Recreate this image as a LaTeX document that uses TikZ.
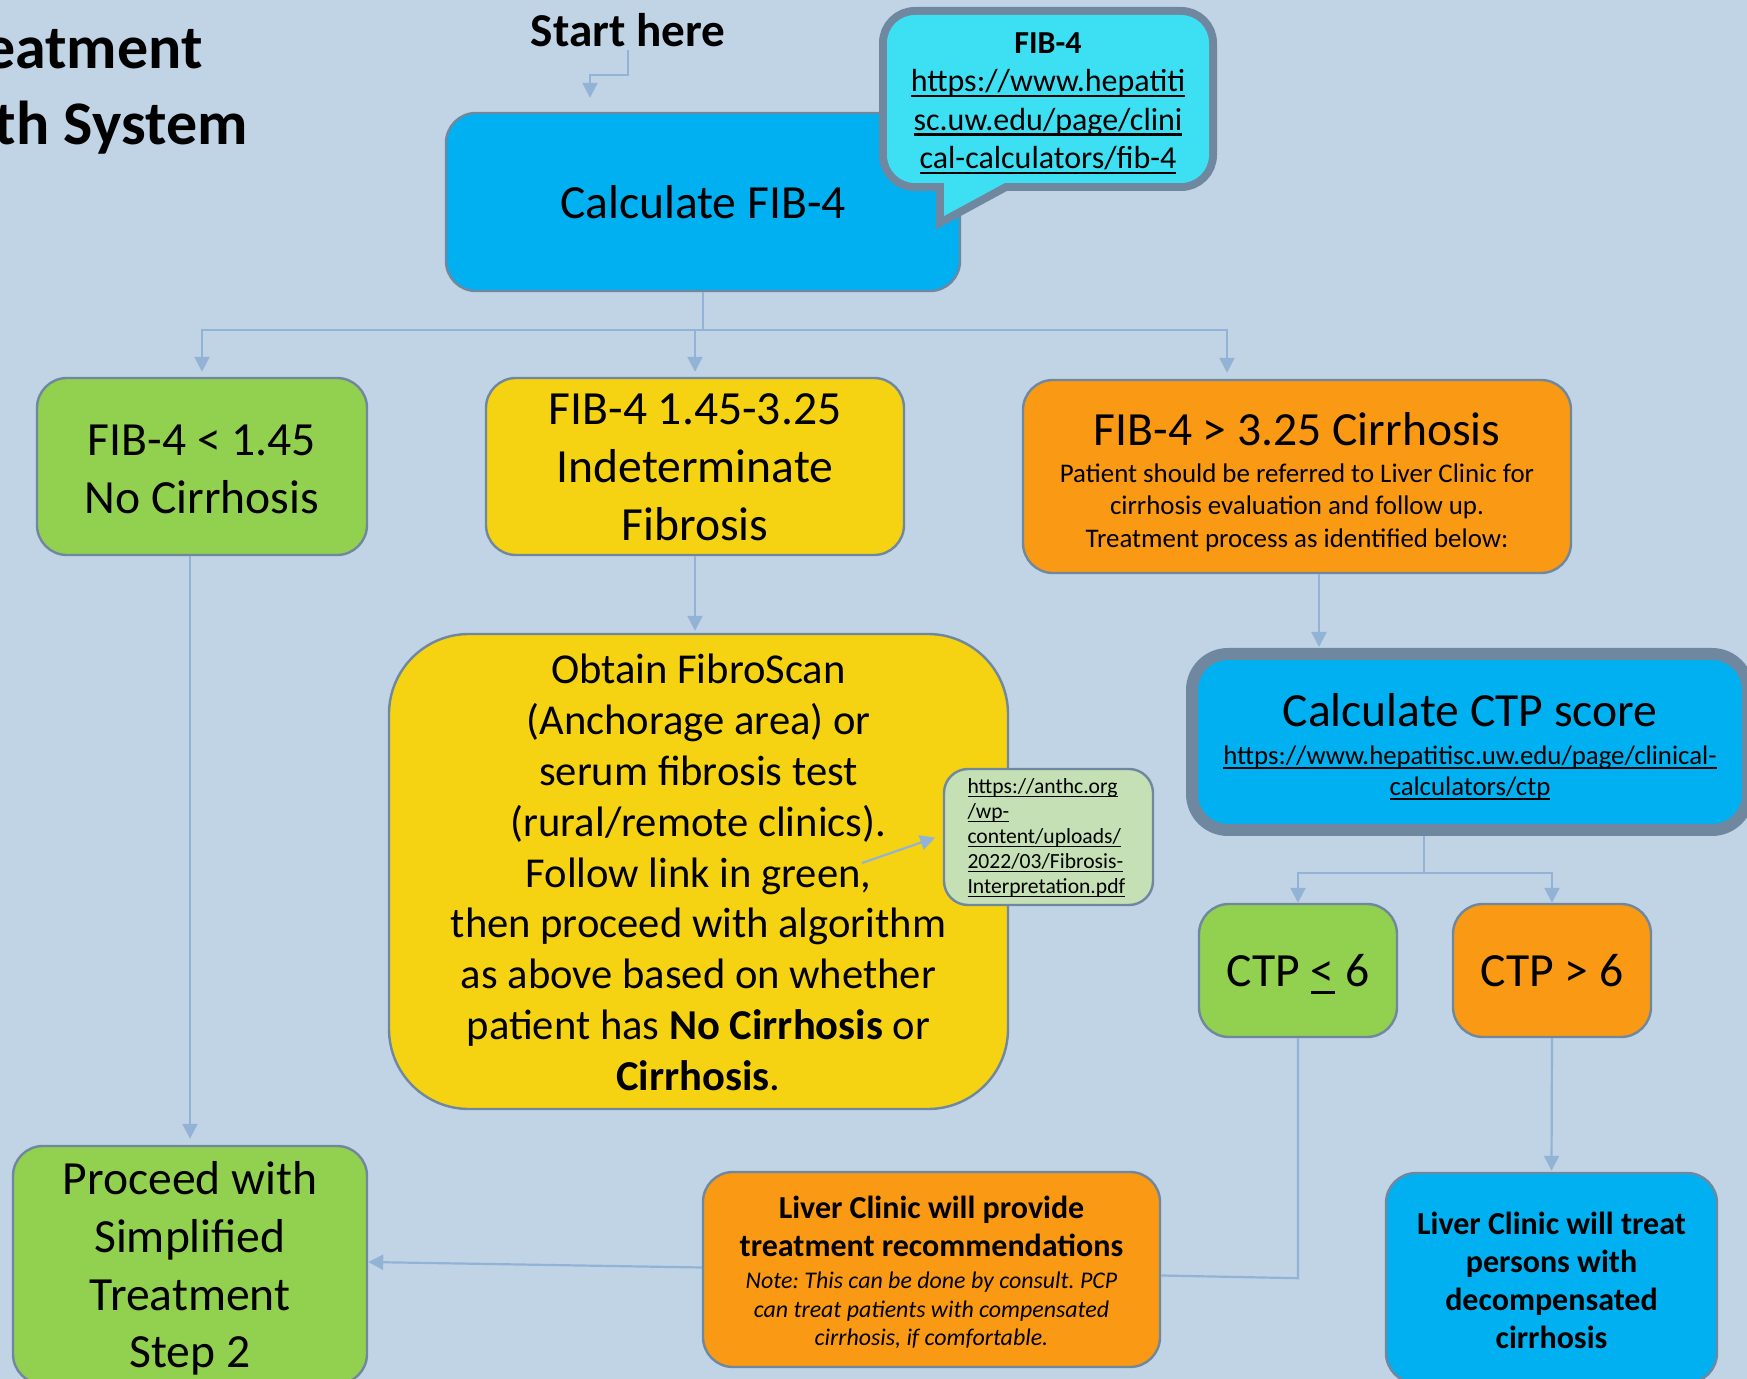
\documentclass[tikz,border=0pt]{standalone}
\usepackage{fontspec}
\setmainfont{Carlito}
\usetikzlibrary{arrows.meta,calc}
\frenchspacing

\definecolor{bgc}{HTML}{C0D4E5}
\definecolor{linec}{HTML}{93B3D6}
\definecolor{edgec}{HTML}{6F88A0}
\definecolor{blueb}{HTML}{00B0F0}
\definecolor{cyanb}{HTML}{3DDFF2}
\definecolor{greenb}{HTML}{92D050}
\definecolor{yellowb}{HTML}{F5D312}
\definecolor{orangeb}{HTML}{FA9913}
\definecolor{paleg}{HTML}{C5E0B4}

% underlined link text, with the rule close under the baseline
\newcommand\undl[1]{\leavevmode\setbox0\hbox{#1}\rlap{\smash{\rule[-0.16em]{\wd0}{0.065em}}}\box0\relax}
\newcommand\fbig{\fontsize{23.8}{28.9}\selectfont}
% trims the foot of a text block, which lowers it inside its box
\newcommand\lowerby[1]{\par\vspace{-#1}}

\tikzset{
  box/.style={draw=edgec, line width=1.2pt, rounded corners=15pt, inner sep=0pt,
              align=flush center, text=black},
  conn/.style={draw=linec, line width=1.1pt},
  arr/.style={conn, -{Triangle[width=7.5pt,length=7.5pt]}},
}

\begin{document}
\begin{tikzpicture}[x=0.5pt, y=-0.5pt]
\fill[bgc] (0,0) rectangle (1747,1379);
\useasboundingbox (0,0) rectangle (1747,1379);

% heading, partly outside the page on the left
\node[font=\bfseries\fontsize{31}{37}\selectfont, anchor=base east, inner sep=0pt] (title1) at (203,69) {eatment};
\node[font=\bfseries\fontsize{31}{37}\selectfont, anchor=base east, inner sep=0pt] (title2) at (248,145) {th System};

\node[font=\bfseries\fontsize{23.6}{28}\selectfont, anchor=base, inner sep=1pt] (start) at (628,47) {Start here};

% first step
\node[box, fill=blueb, minimum width=257pt, minimum height=89pt, text width=240pt, font=\fbig] (fib) at (703,202) {Calculate FIB-4};

% speech bubble with the FIB-4 calculator link
\begin{scope}
  \draw[edgec, line width=8pt, rounded corners=14pt] (887,15) rectangle (1209,183);
  \draw[edgec, line width=8pt, line join=miter] (944,178) -- (944,216) -- (1014,178) -- cycle;
  \fill[cyanb, rounded corners=14pt] (887,15) rectangle (1209,183);
  \fill[cyanb] (944,178) -- (944,216) -- (1014,178) -- cycle;
\end{scope}
\node[align=center, inner sep=0pt, font=\fontsize{16}{19.2}\selectfont] (callout) at (1048,101.5)
  {\textbf{FIB-4}\\\undl{https://www.hepatiti}\\\undl{sc.uw.edu/page/clini}\\\undl{cal-calculators/fib-4}};

% FIB-4 outcomes
\node[box, fill=greenb, minimum width=165pt, minimum height=88.5pt, text width=155pt, font=\fbig] (low) at (202,466.5) {FIB-4 < 1.45\\No Cirrhosis\lowerby{3pt}};
\node[box, fill=yellowb, minimum width=209pt, minimum height=88.5pt, text width=200pt, font=\fbig] (mid) at (695,466.5) {FIB-4 1.45-3.25\\Indeterminate\\Fibrosis\lowerby{1pt}};
\node[box, fill=orangeb, minimum width=274pt, minimum height=96.5pt, text width=265pt] (high) at (1297,476.5)
  {{\fbig FIB-4 > 3.25 Cirrhosis\par}\vspace{2.3pt}%
   {\fontsize{13.45}{16.2}\selectfont Patient should be referred to Liver Clinic for\\cirrhosis evaluation and follow up.\\Treatment process as identified below:\par}\lowerby{5.6pt}};

% indeterminate path
\node[box, fill=yellowb, rounded corners=40pt, minimum width=309.5pt, minimum height=237.5pt, text width=300pt, font=\fontsize{21.3}{25.4}\selectfont] (scan) at (698.5,871.5)
  {Obtain FibroScan\\(Anchorage area) or\\serum fibrosis test\\(rural/remote clinics).\\Follow link in green,\\then proceed with algorithm\\as above based on whether\\patient has \textbf{No Cirrhosis} or\\\textbf{Cirrhosis}.\lowerby{1pt}};
\node[box, fill=paleg, rounded corners=12pt, minimum width=104.5pt, minimum height=68pt, text width=81pt, align=flush left, font=\fontsize{10.8}{12.5}\selectfont] (link) at (1048.5,837)
  {\undl{https://anthc.org}\\\undl{/wp-}\\\undl{content/uploads/}\\\undl{2022/03/Fibrosis-}\\\undl{Interpretation.pdf}\lowerby{1pt}};

% cirrhosis path
\node[box, fill=blueb, line width=6pt, rounded corners=18pt, minimum width=278pt, minimum height=88pt, text width=270pt] (ctp) at (1470,742)
  {{\fbig Calculate CTP score\par}\vspace{3.5pt}%
   {\fontsize{13.4}{15.5}\selectfont\undl{https://www.hepatitisc.uw.edu/page/clinical-}\\\undl{calculators/ctp}\par}\lowerby{5pt}};
\node[box, fill=greenb, minimum width=99pt, minimum height=66.5pt, text width=95pt, font=\fbig] (le6) at (1298,970.5) {CTP \undl{<} 6};
\node[box, fill=orangeb, minimum width=99pt, minimum height=66.5pt, text width=95pt, font=\fbig] (gt6) at (1552,970.5) {CTP > 6};
\node[box, fill=blueb, minimum width=165.5pt, minimum height=105pt, text width=160pt, font=\bfseries\fontsize{16}{19}\selectfont] (treat) at (1551.5,1278)
  {Liver Clinic will treat\\persons with\\decompensated\\cirrhosis\lowerby{2pt}};
\node[box, fill=orangeb, minimum width=228.5pt, minimum height=97.5pt, text width=220pt] (rec) at (931.5,1269.5)
  {{\bfseries\fontsize{16}{19}\selectfont Liver Clinic will provide\\treatment recommendations\par}\vspace{1.7pt}%
   {\itshape\fontsize{11.95}{14.3}\selectfont Note: This can be done by consult. PCP\\can treat patients with compensated\\cirrhosis, if comfortable.\par}\lowerby{3pt}};

% final step
\node[box, fill=greenb, minimum width=177pt, minimum height=119pt, text width=170pt, font=\fbig] (proc) at (190,1265)
  {Proceed with\\Simplified\\Treatment\\Step 2\lowerby{3.5pt}};

% connectors
\draw[arr, shorten >=7pt] (start.south) -- ++(0,25) -| ([xshift=-56.5pt]fib.north);
\draw[conn] (fib.south) -- ++(0,38) coordinate (fsplit);
\draw[arr, shorten >=2.5pt] (fsplit) -| (low.north);
\draw[arr, shorten >=2.5pt] (fsplit) -| (mid.north);
\draw[arr, shorten >=3pt] (fsplit) -| ([xshift=-35pt]high.north);
\draw[arr, shorten >=3pt] (proc.north |- low.south) -- (proc.north);
\draw[arr, shorten >=1pt] (mid.south) -- (mid.south |- scan.north);
\coordinate (pointer) at (862,863);
\draw[arr, shorten >=4pt] (pointer) -- ([yshift=1pt]link.west);
\draw[arr, shorten >=0.5pt] ([xshift=11pt]high.south) -- ([xshift=11pt]high.south |- ctp.north);
\draw[conn] ([xshift=-23pt]ctp.south) -- ++(0,37) coordinate (csplit);
\draw[arr] (csplit) -| (le6.north);
\draw[arr] (csplit) -| (gt6.north);
\draw[conn] (le6.south) -- ++(0,240) -- ([yshift=-3pt]rec.east);
\draw[arr, shorten >=0.5pt] (gt6.south) -- (treat.north);
\draw[arr] ([yshift=1pt]rec.west) -- ([yshift=1.5pt]proc.east);
\end{tikzpicture}
\end{document}
